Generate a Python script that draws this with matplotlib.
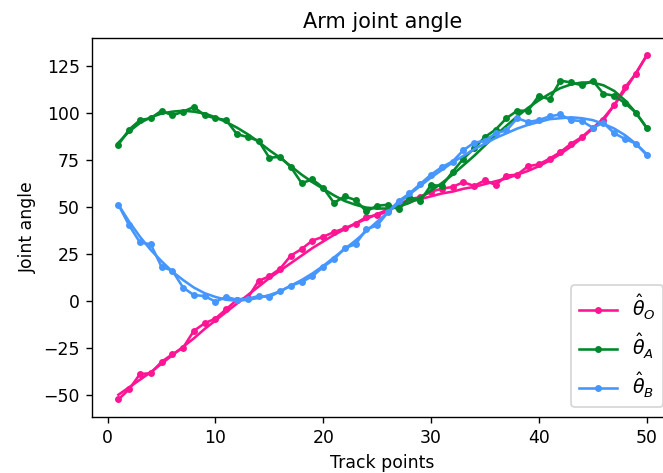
import numpy as np
import matplotlib
matplotlib.use('Agg')
import matplotlib.pyplot as plt

# track points
t = np.arange(1, 51)

# measured angles (noisy)
theta_o = [-52.5, -47, -39, -38.5, -32.5, -28.5, -25, -16, -12, -9.5,
           -4.5, 0.5, 1.5, 10.5, 13, 17, 24, 27.5, 32, 34,
           36.5, 38.5, 41, 44.5, 45.5, 47.5, 51, 54, 55, 58,
           59.5, 60.5, 63, 61, 64, 61.5, 66.5, 67, 71.5, 72.5,
           75.5, 79, 83.5, 87, 92, 96, 104, 113.5, 120.5, 130.5]
theta_a = [83, 91, 96, 97, 101, 98.5, 100.5, 103, 98.5, 97,
           96, 88.5, 87, 85, 76, 76.5, 71, 62.5, 64.5, 60,
           52, 55.5, 53.5, 47.5, 50.5, 51, 48.5, 55, 53, 61.5,
           61, 68.5, 75.5, 81, 87, 91, 97, 101, 101, 109,
           107, 117, 116, 114.5, 117, 110, 109, 105, 100, 92]
theta_b = [51, 40, 31, 30, 18, 16, 7, 3, 2.5, -0.5,
           2, 0.5, 1, 2.5, 2, 5, 8, 10, 13, 18,
           22, 28, 30, 38, 40, 47, 53, 57, 62, 67,
           71, 74, 80, 84, 85, 89, 90.5, 97, 95, 96,
           98, 99, 96, 95.5, 92, 94.5, 89, 86, 83.5, 77.5]

# smoothed angles
smooth_o = [-50, -46, -42, -38, -33.5, -29, -24.5, -20, -15, -10.5,
            -6, -1.5, 3, 7.5, 12, 16, 20, 24, 28, 31.5,
            35, 38, 41, 43.5, 46, 48.5, 50.5, 52.5, 54, 55.5,
            57, 58, 59.5, 60.5, 62, 63.5, 65, 67, 69, 71.5,
            74.5, 78, 82, 86.5, 91.5, 97, 104, 112, 121, 130]
smooth_a = [84, 90, 94.5, 97.5, 99.5, 100.5, 101, 100.5, 99.5, 97.5,
            95, 92, 88.5, 84.5, 80, 76, 71.5, 67, 63, 59.5,
            56, 53, 51, 49.5, 49, 49, 50, 52, 55, 58.5,
            62.5, 67, 72, 77, 82.5, 88, 93, 98, 102.5, 106.5,
            110, 113, 115, 116, 116, 114.5, 111.5, 106.5, 100, 92]
smooth_b = [51, 42, 34, 27, 21, 15.5, 11, 7, 4, 2,
            0.5, 0, 0.5, 1.5, 3, 5, 8, 11, 14.5, 18.5,
            23, 27.5, 32, 37, 42, 47, 52, 56.5, 61, 65.5,
            69.5, 73.5, 77, 80.5, 83.5, 86.5, 89, 91.5, 93.5, 95,
            96.5, 97, 97.5, 97, 96, 94, 91.5, 88, 83.5, 78]

labels = [r'$\hat{\theta}_O$', r'$\hat{\theta}_A$', r'$\hat{\theta}_B$']
colors = ['#ff1493', '#00882a', '#4596ff']

dpi = 124.6
fig = plt.figure(figsize=(663 / dpi, 473 / dpi), dpi=dpi)
ax = fig.add_axes([92 / 663, 1 - 416.7 / 473, 581 / 663, 378.7 / 473])

for raw, sm, lab, c in zip([theta_o, theta_a, theta_b],
                           [smooth_o, smooth_a, smooth_b], labels, colors):
    ax.plot(t, raw, '.-', color=c, label=lab)
    ax.plot(t, sm, '-', color=c)

ax.set_title('Arm joint angle')
ax.set_xlabel('Track points')
ax.set_ylabel('Joint angle')
ax.legend(loc='lower right', fontsize=11)

fig.savefig('out.png', dpi=dpi)
